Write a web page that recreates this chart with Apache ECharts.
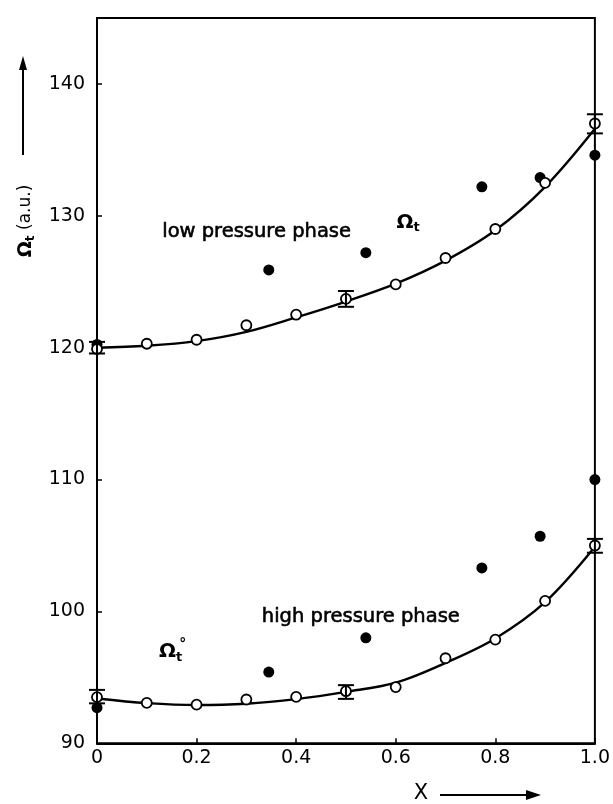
<!DOCTYPE html>
<html>
<head>
<meta charset="utf-8">
<script src="https://cdn.jsdelivr.net/npm/echarts@6/dist/echarts.min.js"></script>
<style>html,body{margin:0;padding:0;background:#fff}#c{width:613px;height:804px}</style>
</head>
<body>
<div id="c"></div>
<script>
// ---- data ----
const xFit = [0, 0.1, 0.2, 0.3, 0.4, 0.5, 0.6, 0.7, 0.8, 0.9, 1.0];
// open circles
const lowOpen  = [119.9, 120.3, 120.6, 121.7, 122.5, 123.7, 124.8, 126.8, 129.0, 132.5, 137.0];
const highOpen = [93.5, 93.06, 92.93, 93.32, 93.52, 93.95, 94.26, 96.45, 97.86, 100.8, 105.0];
// fitted curves
const lowCurve  = [120.0, 120.15, 120.5, 121.2, 122.3, 123.5, 124.85, 126.6, 128.9, 132.2, 136.6];
const highCurve = [93.4, 93.05, 92.9, 93.0, 93.35, 93.9, 94.6, 96.1, 97.95, 100.7, 104.9];
// filled circles
const xFilled = [0, 0.345, 0.54, 0.773, 0.89, 1.0];
const lowFilled  = [120.25, 125.9, 127.2, 132.2, 132.9, 134.6];
const highFilled = [92.7, 95.4, 98.0, 103.3, 105.7, 110.0];
// error bars
const xErr = [0, 0.5, 1.0];
const lowErrLo  = [119.56, 123.1, 136.25];
const lowErrHi  = [120.44, 124.3, 137.7];
const highErrLo = [93.03, 93.37, 104.45];
const highErrHi = [94.05, 94.41, 105.5];
// tick labels
const xTickLabels = ['0', '0.2', '0.4', '0.6', '0.8', '1.0'];
const yTickLabels = ['90', '100', '110', '120', '130', '140'];
// annotations [x, y, rich text, align]
const annotations = [
  [0.131, 128.75, '{n|low pressure phase}', 'left'],
  [0.625, 129.5, '{o|Ω}{s|t}', 'center'],
  [0.331, 99.55, '{n|high pressure phase}', 'left'],
  [0.152, 96.95, '{o|Ω}{s|t}{d|°}', 'center']
];

const pair = (xs, ys) => xs.map((x, i) => [x, ys[i]]);
const FONT = 'DejaVu Sans';

function errItem(params, api) {
  const x = api.value(0);
  const pLo = api.coord([x, api.value(1)]);
  const pHi = api.coord([x, api.value(2)]);
  const w = 8;
  const st = { stroke: '#000', lineWidth: 2 };
  return {
    type: 'group',
    children: [
      { type: 'line', shape: { x1: pLo[0], y1: pLo[1], x2: pHi[0], y2: pHi[1] }, style: st },
      { type: 'line', shape: { x1: pLo[0] - w, y1: pLo[1], x2: pLo[0] + w, y2: pLo[1] }, style: st },
      { type: 'line', shape: { x1: pHi[0] - w, y1: pHi[1], x2: pHi[0] + w, y2: pHi[1] }, style: st }
    ]
  };
}

const chart = echarts.init(document.getElementById('c'), null, { renderer: 'canvas' });
const lineSeries = (data) => ({
  type: 'line', data, smooth: 0.35, symbol: 'none', clip: false,
  lineStyle: { color: '#000', width: 2.4 }, z: 2, silent: true
});
const openSeries = (data) => ({
  type: 'scatter', data, symbol: 'circle', symbolSize: 10, clip: false,
  itemStyle: { color: '#fff', borderColor: '#000', borderWidth: 1.8, opacity: 1 }, z: 4
});
const filledSeries = (data) => ({
  type: 'scatter', data, symbol: 'circle', symbolSize: 11, clip: false,
  itemStyle: { color: '#000', opacity: 1 }, z: 3
});
const errSeries = (xs, lo, hi) => ({
  type: 'custom', renderItem: errItem, clip: false, z: 5,
  data: xs.map((x, i) => [x, lo[i], hi[i]])
});

chart.setOption({
  animation: false,
  backgroundColor: '#fff',
  grid: { left: 97, right: 15.5, top: 18, bottom: 60.7, show: true, borderColor: '#000', borderWidth: 2 },
  xAxis: {
    type: 'value', min: 0, max: 1, interval: 0.2,
    axisLine: { show: true, lineStyle: { color: '#000', width: 2 } },
    axisTick: { show: true, inside: true, length: 5, lineStyle: { color: '#000', width: 1.5 } },
    splitLine: { show: false },
    axisLabel: {
      color: '#000', fontFamily: FONT, fontSize: 19, margin: 5,
      formatter: v => xTickLabels[Math.round(v / 0.2)]
    }
  },
  yAxis: {
    type: 'value', min: 90, max: 145, interval: 10,
    axisLine: { show: true, lineStyle: { color: '#000', width: 2 } },
    axisTick: { show: true, inside: true, length: 5, lineStyle: { color: '#000', width: 1.5 } },
    splitLine: { show: false },
    axisLabel: {
      color: '#000', fontFamily: FONT, fontSize: 19, margin: 12, showMaxLabel: false,
      formatter: v => { const i = Math.round((v - 90) / 10); return (Math.abs(v - (90 + i * 10)) < 1e-6 && yTickLabels[i]) || ''; }
    }
  },
  series: [
    lineSeries(pair(xFit, lowCurve)),
    lineSeries(pair(xFit, highCurve)),
    filledSeries(pair(xFilled, lowFilled)),
    filledSeries(pair(xFilled, highFilled)),
    openSeries(pair(xFit, lowOpen)),
    openSeries(pair(xFit, highOpen)),
    errSeries(xErr, lowErrLo, lowErrHi),
    errSeries(xErr, highErrLo, highErrHi),
    {
      type: 'scatter', symbolSize: 0, silent: true, z: 6,
      itemStyle: { opacity: 1 },
      data: annotations.map(a => ({
        value: [a[0], a[1]],
        label: {
          show: true, position: 'inside', align: a[3], formatter: a[2], opacity: 1,
          rich: {
            n: { fontFamily: FONT, fontSize: 19.5, color: '#000', textBorderColor: '#000', textBorderWidth: 0.6 },
            o: { fontFamily: FONT, fontSize: 20, color: '#000', fontWeight: 'bold' },
            s: { fontFamily: FONT, fontSize: 13, color: '#000', fontWeight: 'bold', padding: [11, 0, 0, 0] },
            d: { fontFamily: FONT, fontSize: 14, color: '#000', fontWeight: 'bold', padding: [0, 0, 14, -3] }
          }
        }
      }))
    }
  ],
  graphic: [
    { type: 'line', shape: { x1: 23, y1: 155, x2: 23, y2: 66 }, style: { stroke: '#000', lineWidth: 2 } },
    { type: 'polygon', shape: { points: [[23, 56], [19, 70], [27, 70]] }, style: { fill: '#000' } },
    {
      type: 'text', x: 26, y: 221, rotation: Math.PI / 2, origin: [0, 0],
      style: {
        text: '{o|Ω}{s|t}{n| (a.u.)}', align: 'center', verticalAlign: 'middle',
        rich: {
          o: { fontFamily: FONT, fontSize: 19, fontWeight: 'bold', fill: '#000' },
          s: { fontFamily: FONT, fontSize: 12, fontWeight: 'bold', fill: '#000', padding: [9, 0, 0, 0] },
          n: { fontFamily: FONT, fontSize: 17, fill: '#000' }
        }
      }
    },
    { type: 'text', x: 421, y: 794, style: { text: 'X', font: '21px "DejaVu Sans"', fill: '#000', align: 'center', verticalAlign: 'middle' } },
    { type: 'line', shape: { x1: 440, y1: 795, x2: 528, y2: 795 }, style: { stroke: '#000', lineWidth: 2 } },
    { type: 'polygon', shape: { points: [[541, 795], [526, 790], [526, 800]] }, style: { fill: '#000' } }
  ]
});
</script>
</body>
</html>
